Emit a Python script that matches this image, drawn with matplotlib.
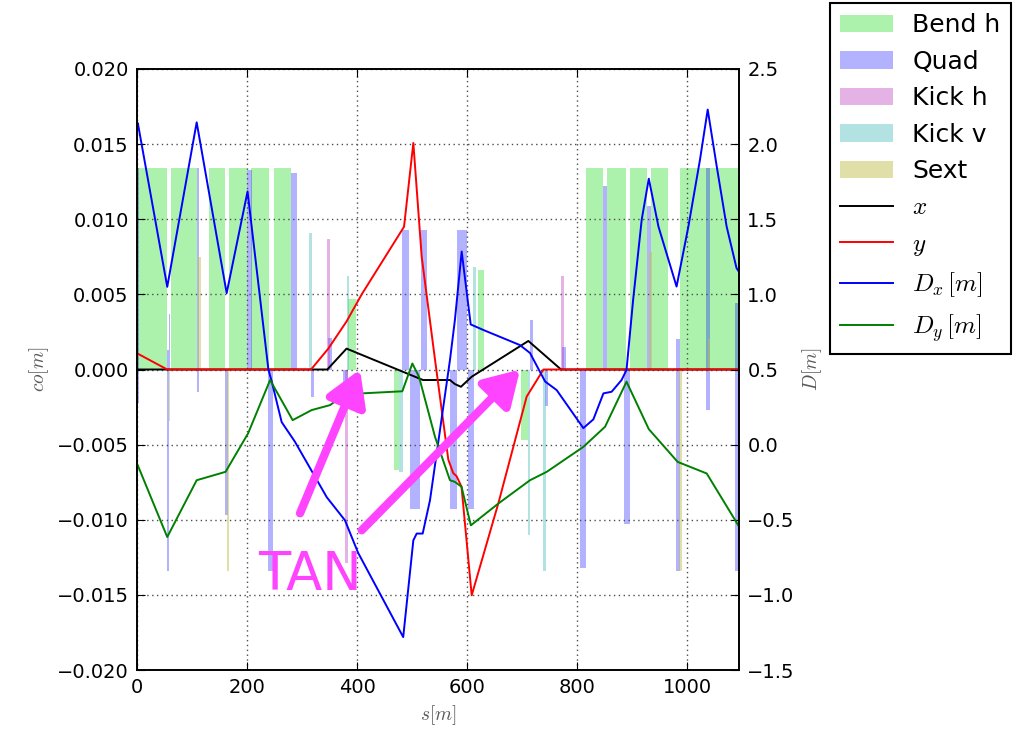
import matplotlib
matplotlib.use('Agg')
import matplotlib.pyplot as plt

plt.rcParams['font.family'] = 'DejaVu Sans'
plt.rcParams['mathtext.fontset'] = 'cm'

# lattice elements: start position [m], length [m], bar height (left axis units)
bend_s = [1, 62, 130, 168, 207, 249, 384, 467, 620, 699, 816, 855, 896, 934.5, 987]
bend_len = [53, 47, 30, 32, 33, 31, 13.6, 9, 10, 11, 31, 33.5, 31, 31.5, 107]
bend_k = [0.0134, 0.0134, 0.0134, 0.0134, 0.0134, 0.0134,
          0.0047, -0.0067, 0.0066, -0.0047,
          0.0134, 0.0134, 0.0134, 0.0134, 0.0134]

quad_s = [0, 0, 54, 54, 58, 108.5, 108.5, 160, 199.5, 239, 280, 316, 348, 375,
          482.5, 496.4, 516.4, 569, 581, 601, 714.5, 742, 773.3, 805.5, 847,
          885.5, 926.7, 980, 980, 1034.5, 1034.5, 1088, 1088]
quad_len = [3, 3, 4.5, 4.5, 1.5, 5, 5, 6, 9, 8, 10, 6, 7, 8,
            12, 18, 10.3, 12, 18.5, 12, 6, 6, 6, 10.3, 8,
            11, 7.3, 7, 7, 7.5, 7.5, 7, 7]
quad_k = [0.0134, -0.0022, -0.0134, 0.0013, 0.0037, 0.0134, -0.0015, -0.0097,
          0.0133, -0.0134, 0.0131, -0.0018, 0.0021, -0.0016,
          0.0093, -0.0093, 0.0093, -0.0093, 0.0093, -0.0093, 0.0033, -0.0024,
          0.0015, -0.0132, 0.0122, -0.0103, 0.0109, -0.0134, 0.002,
          0.0134, -0.0027, 0.0044, -0.0134]

kickh_s = [345.5, 378, 771]
kickh_len = [4.5, 5, 4.5]
kickh_k = [0.0087, -0.0129, 0.0062]

kickv_s = [313, 381, 477, 611.5, 710, 739]
kickv_len = [4.5, 4, 6, 4, 4.5, 4.5]
kickv_k = [0.0091, 0.0062, -0.0068, 0.0068, -0.011, -0.0134]

sext_s = [0, 57.5, 111.5, 164, 931.5, 986, 1039]
sext_len = [2.5, 2.5, 4, 4, 4, 4.5, 3]
sext_k = [0.0015, -0.0034, 0.0075, -0.0134, 0.0078, -0.0134, 0.002]

# closed orbit [m]
s_x = [0, 346, 381, 520, 569, 578, 589, 608.5, 711.5, 771, 1094.5]
co_x = [0, 0, 0.00139, -0.0007, -0.0007, -0.00097, -0.00115, -0.00048, 0.0019, 0, 0]

s_y = [0, 55, 316.4, 348, 381, 408.5, 485.5, 502.4, 517.6, 542, 566, 575, 581,
       590, 608.5, 657, 708.5, 739, 1094.5]
co_y = [0.00108, 0, 0, 0.0014, 0.0032, 0.005, 0.0095, 0.01508, 0.0075, 0.0006,
        -0.006, -0.0069, -0.0071, -0.0078, -0.01503, -0.0089, -0.0018, 0, 0]

# dispersion [m]
s_dx = [0, 1.5, 55, 108.5, 163, 201, 239, 245, 263, 287, 345, 378, 402, 484,
        502.4, 508.5, 519.4, 532.7, 569, 578, 590.3, 606.7, 629.7, 696, 714.5,
        742, 763, 811.5, 829.7, 848, 863, 881, 890, 902, 917.6, 930.5, 948,
        981, 1002.5, 1023.6, 1037.6, 1054, 1072, 1090, 1094.5]
d_x = [2.10, 2.14, 1.05, 2.145, 1.008, 1.685, 0.497, 0.42, 0.15, 0.02, -0.35,
       -0.503, -0.72, -1.281, -0.637, -0.592, -0.592, -0.37, 0.563, 0.83,
       1.285, 0.80, 0.763, 0.663, 0.61, 0.42, 0.363, 0.11, 0.168, 0.341,
       0.352, 0.43, 0.497, 0.963, 1.497, 1.77, 1.452, 1.052, 1.452, 1.897,
       2.23, 1.852, 1.452, 1.175, 1.15]

s_dy = [0, 55, 108.5, 161, 202, 242, 283, 317.6, 351, 378, 408.5, 482.4,
        500.6, 512.7, 541.8, 569, 578, 590, 607, 657, 714.5, 745, 811.5, 851,
        890, 930.5, 983, 1035.8, 1094.5]
d_y = [-0.125, -0.615, -0.237, -0.181, 0.075, 0.43, 0.163, 0.23, 0.263, 0.335,
       0.341, 0.355, 0.54, 0.452, 0.052, -0.237, -0.248, -0.28, -0.537, -0.392,
       -0.237, -0.181, -0.015, 0.119, 0.419, 0.103, -0.115, -0.192, -0.545]

# TAN markers: arrow tails and tips (s, co)
tan_tails = [(296.4, -0.00957), (408.5, -0.0107)]
tan_tips = [(405.5, 0.0), (696.4, 0.0)]
tan_text_pos = (220, -0.0147)

fig = plt.figure(figsize=(10.19, 7.36), dpi=100)
ax = fig.add_axes([137 / 1019, 1 - 670 / 736, 602 / 1019, 601 / 736])
ax2 = ax.twinx()

ax.bar(bend_s, bend_k, width=bend_len, align='edge', color='#90ee90',
       alpha=0.75, linewidth=0, label='Bend h')
ax.bar(quad_s, quad_k, width=quad_len, align='edge', color='#0000ff',
       alpha=0.3, linewidth=0, label='Quad')
ax.bar(kickh_s, kickh_k, width=kickh_len, align='edge', color='#c040c0',
       alpha=0.4, linewidth=0, label='Kick h')
ax.bar(kickv_s, kickv_k, width=kickv_len, align='edge', color='#40b8b8',
       alpha=0.4, linewidth=0, label='Kick v')
ax.bar(sext_s, sext_k, width=sext_len, align='edge', color='#c0c050',
       alpha=0.5, linewidth=0, label='Sext')

ax.plot(s_x, co_x, color='k', lw=1.4, label='$x$')
ax.plot(s_y, co_y, color='r', lw=1.4, label='$y$')
ax2.plot(s_dx, d_x, color='b', lw=1.4, label='$D_x\\,[m]$')
ax2.plot(s_dy, d_y, color='g', lw=1.4, label='$D_y\\,[m]$')

ax.set_xlim(0, 1094.5)
ax.set_ylim(-0.02, 0.02)
ax2.set_ylim(-1.5, 2.5)
ax.set_xticks([0, 200, 400, 600, 800, 1000])
ax.set_yticks([-0.02, -0.015, -0.01, -0.005, 0, 0.005, 0.01, 0.015, 0.02])
ax.set_yticklabels(['\u22120.020', '\u22120.015', '\u22120.010', '\u22120.005',
                    '0.000', '0.005', '0.010', '0.015', '0.020'])
ax2.set_yticks([-1.5, -1.0, -0.5, 0, 0.5, 1.0, 1.5, 2.0, 2.5])

ax.tick_params(direction='in', length=6, labelsize=14, top=True, pad=6)
ax2.tick_params(direction='in', length=6, labelsize=14, pad=6)
ax.grid(True, color='0.3', linestyle=(0, (1, 2.5)), linewidth=1.0)

ax.set_xlabel('$s[m]$', fontsize=14, color='0.35')
ax.set_ylabel('$co[m]$', fontsize=14, color='0.35')
ax2.set_ylabel('$D[m]$', fontsize=14, color='0.35')

for sp in list(ax.spines.values()) + list(ax2.spines.values()):
    sp.set_linewidth(1.2)

# TAN annotation
magenta = '#ff44ff'
for tail, tip in zip(tan_tails, tan_tips):
    ax2.annotate('', xy=tip, xycoords=ax.transData, xytext=tail,
                 textcoords=ax.transData,
                 arrowprops=dict(arrowstyle='-|>,head_length=0.45,head_width=0.27',
                                 mutation_scale=46, lw=6, color=magenta,
                                 shrinkA=0, shrinkB=0))
ax2.text(tan_text_pos[0], tan_text_pos[1], 'TAN', transform=ax.transData,
         color=magenta, fontsize=38, ha='left', va='baseline')

h1, l1 = ax.get_legend_handles_labels()
h2, l2 = ax2.get_legend_handles_labels()
bars_h = h1[2:]
bars_l = l1[2:]
handles = bars_h + h1[:2] + h2
labels = bars_l + l1[:2] + l2
leg = fig.legend(handles, labels, loc='upper left',
                 bbox_to_anchor=(830 / 1019, 1 - 3 / 736), borderaxespad=0,
                 fontsize=18, fancybox=False, framealpha=1, edgecolor='k',
                 handlelength=2.1, labelspacing=0.5, borderpad=0.4,
                 handletextpad=0.8)
leg.get_frame().set_linewidth(1.5)

fig.savefig('out.png', dpi=100, facecolor='white')
